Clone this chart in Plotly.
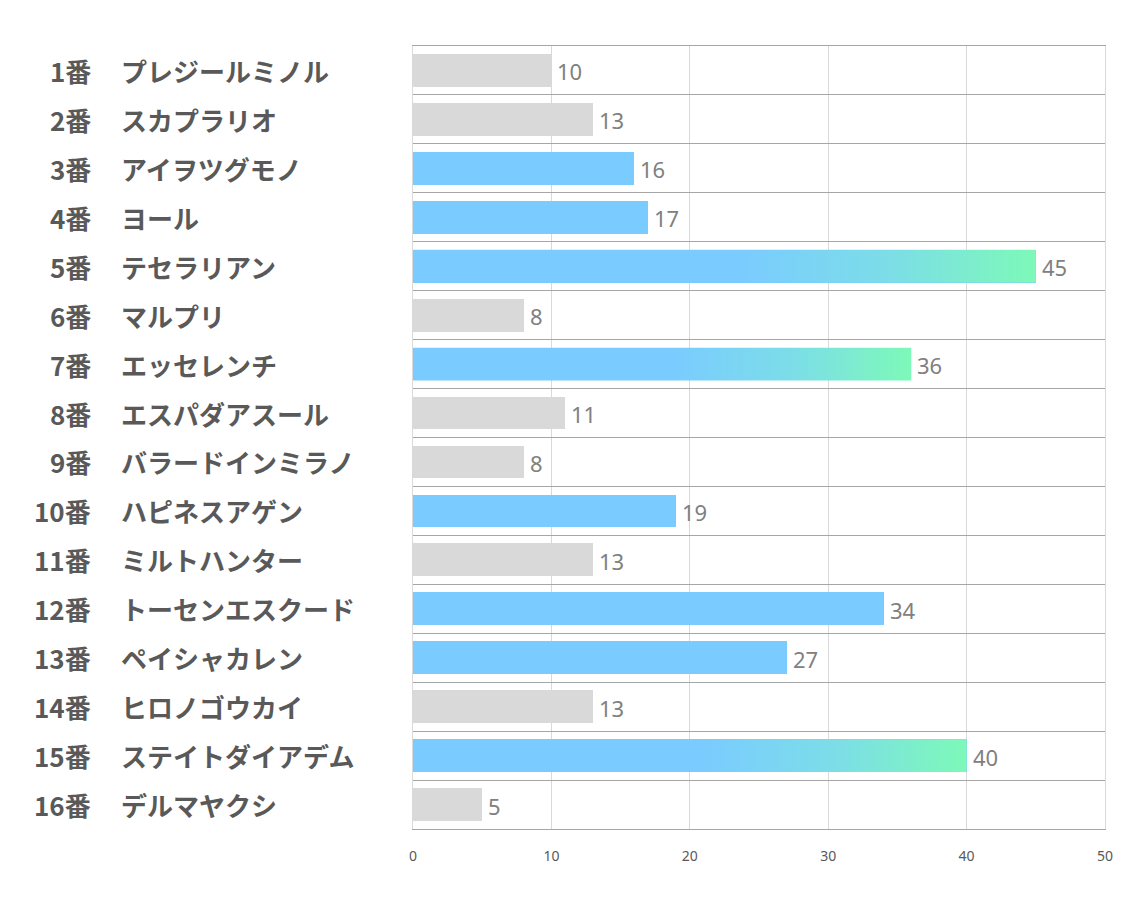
import plotly.graph_objects as go

numbers = ["1番", "2番", "3番", "4番", "5番", "6番", "7番", "8番",
           "9番", "10番", "11番", "12番", "13番", "14番", "15番", "16番"]
names = ["プレジールミノル", "スカプラリオ", "アイヲツグモノ", "ヨール", "テセラリアン",
         "マルプリ", "エッセレンチ", "エスパダアスール", "バラードインミラノ", "ハピネスアゲン",
         "ミルトハンター", "トーセンエスクード", "ペイシャカレン", "ヒロノゴウカイ",
         "ステイトダイアデム", "デルマヤクシ"]
values = [10, 13, 16, 17, 45, 8, 36, 11, 8, 19, 13, 34, 27, 13, 40, 5]
# g = gray, b = blue, gr = blue->green gradient
kinds = ["g", "g", "b", "b", "gr", "g", "gr", "g", "g", "b", "g", "b", "b", "g", "gr", "g"]

GRAY = "#D9D9D9"
BLUE = "#7ACBFF"
GREEN = "#7DF9B8"
bar_w = 0.67
plot_w = 692  # pixel width of plot area

pos = list(range(len(values)))
colors = [GRAY if k == "g" else BLUE for k in kinds]

fig = go.Figure()
fig.add_trace(go.Bar(
    x=values, y=pos, orientation="h", width=bar_w,
    marker=dict(color=colors, line=dict(width=0)),
    showlegend=False, hoverinfo="skip",
))

# gradient bars drawn on top as filled shapes
for i, (v, k) in enumerate(zip(values, kinds)):
    if k != "gr":
        continue
    y0, y1 = i - bar_w / 2, i + bar_w / 2
    fig.add_trace(go.Scatter(
        x=[0, v, v, 0, 0], y=[y0, y0, y1, y1, y0],
        mode="lines", line=dict(width=0), fill="toself",
        fillgradient=dict(type="horizontal",
                          colorscale=[[0, BLUE], [0.52, BLUE], [0.76, "#7CDDE8"], [1, GREEN]]),
        showlegend=False, hoverinfo="skip",
    ))

lab_font = dict(size=26, color="#595959", family="Noto Sans CJK JP", weight=600)
for i, (n, nm) in enumerate(zip(numbers, names)):
    fig.add_annotation(x=-320 / plot_w, y=i, xref="x domain", yref="y", text=n,
                       showarrow=False, xanchor="right", font=lab_font)
    fig.add_annotation(x=-294 / plot_w, y=i, xref="x domain", yref="y", text=nm,
                       showarrow=False, xanchor="left", font=lab_font)

# value labels
for i, v in enumerate(values):
    fig.add_annotation(x=v, y=i, xref="x", yref="y", text=str(v), showarrow=False,
                       xanchor="left", xshift=4, yshift=-1,
                       font=dict(size=22, color="#808080", family="Noto Sans"))

fig.update_layout(
    width=1126, height=899,
    margin=dict(l=405, r=29, t=38, b=78),
    plot_bgcolor="white", paper_bgcolor="white",
    bargap=0,
    xaxis=dict(range=[0, 50], tickvals=[0, 10, 20, 30, 40, 50], showgrid=True,
               gridcolor="#D9D9D9", gridwidth=1, zeroline=False,
               showline=True, mirror=True, linecolor="#A6A6A6", linewidth=1,
               tickfont=dict(size=14, color="#595959", family="Noto Sans"), ticks="",
               ticklabelstandoff=14, fixedrange=True),
    yaxis=dict(range=[len(values) - 0.5, -0.5], tickvals=[i - 0.5 for i in range(len(values) + 1)],
               showticklabels=False, showgrid=True, gridcolor="#A6A6A6", gridwidth=1,
               showline=True, mirror=True, linecolor="#D9D9D9", linewidth=1,
               zeroline=False, ticks="", fixedrange=True),
)

fig.write_html("out.html")
